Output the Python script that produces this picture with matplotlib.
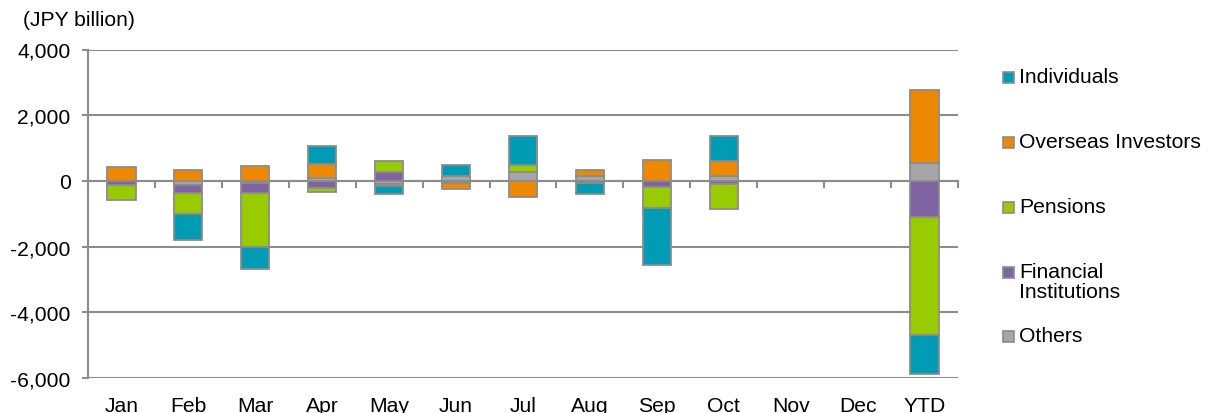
import matplotlib
matplotlib.use("Agg")
import matplotlib.pyplot as plt
import numpy as np
from matplotlib.patches import Rectangle
from matplotlib.transforms import blended_transform_factory

plt.rcParams["font.family"] = ["Liberation Sans", "DejaVu Sans"]

# data (JPY billion), stacking order = Excel series order
months = ["Jan", "Feb", "Mar", "Apr", "May", "Jun", "Jul", "Aug", "Sep", "Oct", "Nov", "Dec", "YTD"]
others = [0, -140, -50, 100, -100, 150, 280, 160, 0, 160, 0, 0, 556]
financial = [-140, -240, -330, -230, 270, -60, 0, -50, -190, -90, 0, 0, -1090]
pensions = [-455, -620, -1620, -120, 330, 0, 200, 0, -630, -780, 0, 0, -3590]
overseas = [415, 345, 464, 400, -60, -190, -485, 160, 650, 450, 0, 0, 2220]
individuals = [0, -790, -690, 575, -240, 320, 880, -360, -1730, 760, 0, 0, -1210]

series = [
    (others, "Others", "#a6a6a6"),
    (financial, "Financial\nInstitutions", "#8064a2"),
    (pensions, "Pensions", "#99cc00"),
    (overseas, "Overseas Investors", "#ee8800"),
    (individuals, "Individuals", "#009bb4"),
]
edge = "#8c8c8c"
fs = 15.2

W, H = 1211, 414
fig = plt.figure(figsize=(W / 100, H / 100), dpi=100)
ax = fig.add_axes([88 / W, 1 - 379 / H, (958 - 88) / W, (379 - 50.5) / H])

x = np.arange(len(months))
pos_bottom = np.zeros(len(months))
neg_bottom = np.zeros(len(months))
for vals, name, color in series:
    v = np.array(vals, dtype=float)
    bottom = np.where(v >= 0, pos_bottom, neg_bottom)
    mask = v != 0
    ax.bar(x[mask], v[mask], bottom=bottom[mask], width=0.42,
           color=color, edgecolor=edge, linewidth=1.3, zorder=3)
    pos_bottom += np.where(v > 0, v, 0)
    neg_bottom += np.where(v < 0, v, 0)

ax.set_xlim(-0.5, len(months) - 0.5)
ax.set_ylim(-6000, 4000)
ax.set_yticks(range(-6000, 4001, 2000))
ax.yaxis.set_major_formatter(lambda v, p: f"{v:,.0f}")
ax.grid(axis="y", color=edge, linewidth=1.5, zorder=0)
ax.set_axisbelow(True)

for s in ["top", "right"]:
    ax.spines[s].set_visible(False)
ax.spines["bottom"].set_position(("data", 0))
ax.spines["bottom"].set_color(edge)
ax.spines["bottom"].set_linewidth(1.5)
ax.spines["left"].set_color(edge)
ax.spines["left"].set_linewidth(1.5)

ax.set_xticks(np.arange(-0.5, len(months), 1))
ax.set_xticklabels([])
ax.tick_params(axis="x", length=5, width=1.5, color=edge, direction="out")
ax.tick_params(axis="y", length=4.5, width=1.5, color=edge, labelsize=fs, pad=8)

trans = blended_transform_factory(ax.transData, ax.transAxes)
for i, m in enumerate(months):
    ax.text(i, -0.085, m, transform=trans, ha="center", va="center", fontsize=fs)

fig.text(23 / W, 1 - 21 / H, "(JPY billion)", ha="left", va="center", fontsize=fs)

# legend drawn by hand to match the spacing of the original
legend_y = {"Individuals": 78, "Overseas Investors": 143, "Pensions": 208,
            "Financial\nInstitutions": 273, "Others": 337}
for vals, name, color in series:
    yc = legend_y[name]
    fig.patches.append(Rectangle((1003 / W, 1 - (yc + 5.5) / H), 11 / W, 11 / H,
                                 transform=fig.transFigure, facecolor=color,
                                 edgecolor=edge, linewidth=1.2))
    if "\n" in name:
        fig.text(1019 / W, 1 - (yc - 10.5) / H, name, ha="left", va="top",
                 fontsize=fs, linespacing=1.1)
    else:
        fig.text(1019 / W, 1 - yc / H, name, ha="left", va="center", fontsize=fs)

fig.savefig("out.png", dpi=100)
